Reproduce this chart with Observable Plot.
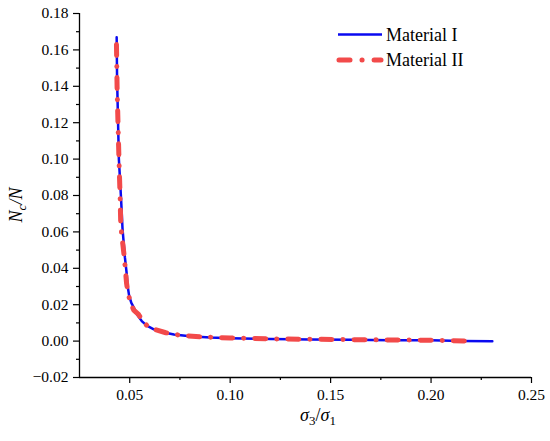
<!DOCTYPE html>
<html>
<head>
<meta charset="utf-8">
<script src="https://cdn.jsdelivr.net/npm/d3@7"></script>
<script src="https://cdn.jsdelivr.net/npm/@observablehq/plot@0.6"></script>
<style>
  html, body { margin: 0; padding: 0; background: #fff; }
  #chart svg { display: block; }
</style>
</head>
<body>
<div id="chart"></div>
<script>
// Material I (blue solid)
const matIx = [0.0435, 0.0437, 0.0441, 0.0446, 0.0452, 0.0457, 0.0464, 0.0470, 0.0476, 0.0484, 0.0490, 0.0497, 0.0508, 0.0520, 0.0540, 0.0560, 0.0585, 0.0620, 0.0660, 0.0720, 0.0800, 0.0900, 0.1000, 0.1200, 0.1400, 0.1600, 0.1800, 0.2000, 0.2150, 0.2305];
const matIy = [0.167, 0.145, 0.125, 0.100, 0.088, 0.078, 0.062, 0.054, 0.046, 0.038, 0.030, 0.025, 0.021, 0.0185, 0.014, 0.011, 0.0085, 0.0065, 0.0050, 0.0036, 0.0027, 0.0020, 0.0016, 0.0012, 0.0009, 0.0007, 0.0005, 0.0004, 0.0001, -0.0001];
// Material II (red dash-dot)
const matIIx = [0.0434, 0.0437, 0.0442, 0.0447, 0.0452, 0.0455, 0.0460, 0.0466, 0.0472, 0.0478, 0.0484, 0.0492, 0.0505, 0.0520, 0.0545, 0.0565, 0.0590, 0.0630, 0.0680, 0.0750, 0.0850, 0.1000, 0.1200, 0.1400, 0.1600, 0.1800, 0.2000, 0.2100, 0.2210];
const matIIy = [0.163, 0.140, 0.118, 0.098, 0.080, 0.066, 0.058, 0.053, 0.047, 0.040, 0.032, 0.026, 0.021, 0.017, 0.0145, 0.011, 0.0080, 0.0062, 0.0046, 0.0032, 0.0024, 0.0017, 0.0012, 0.0010, 0.0008, 0.0006, 0.0005, 0.0002, 0.0000];

const xTicks = [0.05, 0.10, 0.15, 0.20, 0.25];
const xMinor = [0.075, 0.125, 0.175, 0.225];
const yTicks = [-0.02, 0.00, 0.02, 0.04, 0.06, 0.08, 0.10, 0.12, 0.14, 0.16, 0.18];
const yMinor = [-0.01, 0.01, 0.03, 0.05, 0.07, 0.09, 0.11, 0.13, 0.15, 0.17];
const seriesNames = ["Material I", "Material II"];

const dataI = matIx.map((x, i) => ({x, y: matIy[i]}));
const dataII = matIIx.map((x, i) => ({x, y: matIIy[i]}));

const blue = "#0a0af0";
const red = "#f24a4a";
const fmt = d3.format(".2f");
const serif = "'Liberation Serif'";

const chart = Plot.plot({
  width: 550,
  height: 441,
  marginLeft: 79,
  marginRight: 19,
  marginTop: 13,
  marginBottom: 64,
  style: { fontSize: "15.5px", color: "#000", background: "#fff" },
  x: { domain: [0.025, 0.25] },
  y: { domain: [-0.02, 0.18] },
  marks: [
    Plot.axisX({ ticks: xTicks, tickSize: 6, tickPadding: 5, tickFormat: fmt, label: null, stroke: "#000", strokeWidth: 1.2, fill: "#000" }),
    Plot.axisX({ ticks: xMinor, tickSize: 3, tickFormat: () => "", label: null, stroke: "#000", strokeWidth: 1.2 }),
    Plot.axisY({ ticks: yTicks, tickSize: 6, tickPadding: 5, tickFormat: fmt, label: null, stroke: "#000", strokeWidth: 1.2, fill: "#000" }),
    Plot.axisY({ ticks: yMinor, tickSize: 3, tickFormat: () => "", label: null, stroke: "#000", strokeWidth: 1.2 }),
    Plot.ruleX([0.025], { stroke: "#000", strokeWidth: 1.3 }),
    Plot.ruleY([-0.02], { stroke: "#000", strokeWidth: 1.3 }),
    Plot.line(dataI, { x: "x", y: "y", stroke: blue, strokeWidth: 2.5 }),
    Plot.line(dataII, { x: "x", y: "y", stroke: red, strokeWidth: 5, strokeDasharray: "11,11,0.1,11", strokeLinecap: "round" })
  ]
});

document.getElementById("chart").appendChild(chart);

const svg = d3.select(chart);

// Y axis label: N_c/N
const yl = svg.append("text")
  .attr("transform", "translate(22,205) rotate(-90)")
  .attr("text-anchor", "middle")
  .style("font-size", "18px")
  .style("font-style", "italic")
  .attr("fill", "#000");
yl.append("tspan").text("N");
yl.append("tspan").style("font-size", "13px").attr("dy", 4).text("c");
yl.append("tspan").attr("dy", -4).text("/N");

// X axis label: σ3/σ1
const xl = svg.append("text")
  .attr("x", 318).attr("y", 421)
  .attr("text-anchor", "middle")
  .style("font-size", "18px")
  .attr("fill", "#000");
xl.append("tspan").style("font-style", "italic").text("σ");
xl.append("tspan").style("font-size", "13px").attr("dy", 4).text("3");
xl.append("tspan").attr("dy", -4).text("/");
xl.append("tspan").style("font-style", "italic").text("σ");
xl.append("tspan").style("font-size", "13px").attr("dy", 4).text("1");

// Legend
const lg = svg.append("g").attr("fill", "#000");
lg.append("line").attr("x1", 338).attr("x2", 382).attr("y1", 34.5).attr("y2", 34.5)
  .attr("stroke", blue).attr("stroke-width", 2.5);
lg.append("text").attr("x", 386).attr("y", 40.5).attr("text-anchor", "start").style("font-size", "18px").text(seriesNames[0]);
lg.append("line").attr("x1", 339).attr("x2", 381).attr("y1", 60).attr("y2", 60)
  .attr("stroke", red).attr("stroke-width", 5).attr("stroke-linecap", "round")
  .attr("stroke-dasharray", "11,12,0.1,12");
lg.append("text").attr("x", 386).attr("y", 65.5).attr("text-anchor", "start").style("font-size", "18px").text(seriesNames[1]);

// Force serif font on every text element (inline style)
svg.selectAll("text").style("font-family", serif);
svg.selectAll("g").filter(function () { return this.getAttribute("aria-label") === "y-axis tick label" || this.getAttribute("aria-label") === "x-axis tick label"; })
  .selectAll("text").style("font-size", "15.5px");
</script>
</body>
</html>
